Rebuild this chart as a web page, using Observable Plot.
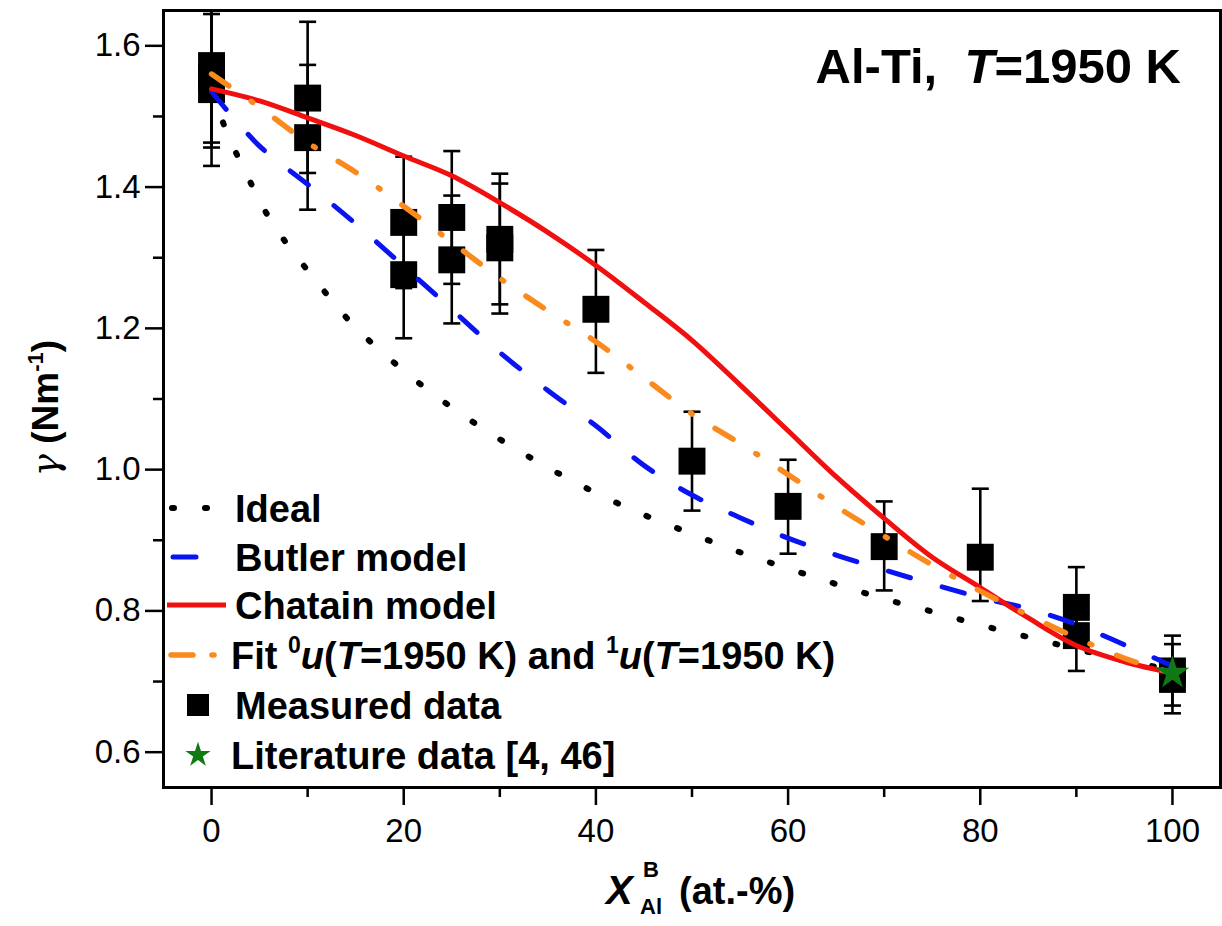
<!DOCTYPE html>
<html><head><meta charset="utf-8">
<script src="https://cdn.jsdelivr.net/npm/d3@7"></script>
<script src="https://cdn.jsdelivr.net/npm/@observablehq/plot@0.6"></script>
<style>body{margin:0;background:#fff} #chart svg{display:block}</style>
</head><body><div id="chart"></div>
<script>
// ---- data ----
const curveX   = [0,5,10,15,20,25,30,35,40,45,50,55,60,65,70,75,80,85,90,95,100];
const butlerY  = [1.535,1.458,1.404,1.348,1.288,1.227,1.166,1.112,1.062,1.006,0.964,0.932,0.903,0.879,0.858,0.838,0.819,0.803,0.781,0.752,0.722];
const chatainY = [1.539,1.522,1.498,1.473,1.444,1.416,1.378,1.336,1.289,1.237,1.183,1.120,1.055,0.990,0.931,0.876,0.833,0.790,0.751,0.728,0.712];
const fitY     = [1.560,1.513,1.463,1.421,1.373,1.322,1.271,1.225,1.181,1.130,1.079,1.037,0.993,0.948,0.906,0.865,0.828,0.794,0.762,0.733,0.712];
const idealX   = [0,1,2.5,4,5.5,7.5,10,12.5,15,20,25,30,35,40,45,50,55,60,65,70,75,80,85,90,95,100];
const idealY   = [1.535,1.498,1.450,1.408,1.368,1.326,1.282,1.240,1.201,1.140,1.088,1.043,1.003,0.967,0.936,0.909,0.883,0.860,0.838,0.817,0.799,0.780,0.763,0.746,0.730,0.716];

const measX  = [0,0,0,10,10,20,20,25,25,30,30,40,50,60,70,80,90,90,100,100];
const measY  = [1.572,1.555,1.538,1.526,1.470,1.350,1.276,1.357,1.297,1.326,1.314,1.227,1.012,0.948,0.891,0.876,0.805,0.765,0.715,0.703];
const measLo = [1.463,1.456,1.430,1.420,1.368,1.257,1.186,1.263,1.207,1.234,1.221,1.137,0.942,0.881,0.829,0.814,0.748,0.715,0.666,0.655];
const measHi = [1.680,1.655,1.645,1.634,1.573,1.443,1.366,1.451,1.388,1.419,1.405,1.311,1.082,1.014,0.955,0.973,0.862,0.815,0.765,0.753];

const litX = [100];
const litY = [0.712];

const xTicks = [0,20,40,60,80,100];
const xMinor = [10,30,50,70,90];
const yTicks = [0.6,0.8,1.0,1.2,1.4,1.6];
const yMinor = [0.7,0.9,1.1,1.3,1.5];

// ---- tables ----
const toRows = (xs, ys) => xs.map((x,i)=>({x, y: ys[i]}));
const ideal = toRows(idealX, idealY);
const butler = toRows(curveX, butlerY);
const chatain = toRows(curveX, chatainY);
const fit = toRows(curveX, fitY);
const meas = measX.map((x,i)=>({x, y: measY[i], lo: measLo[i], hi: measHi[i]}));
const lit = toRows(litX, litY);

const FONT = "'Liberation Sans', Arial, sans-serif";
const C = {ideal:"#000000", butler:"#0a14f0", chatain:"#f01010", fit:"#fa8a1e", star:"#0f7a14"};
const DASH = {ideal:"2 31", butler:"23 33", fit:"21 27 2 27"};

const capSymbol = {draw(ctx, size){ const w = Math.sqrt(size/Math.PI); ctx.moveTo(-w,0); ctx.lineTo(w,0); }};

const plot = Plot.plot({
  width: 1222, height: 926,
  marginLeft: 163, marginRight: 2, marginTop: 10, marginBottom: 139,
  x: {domain: [-5, 105]},
  y: {domain: [0.55, 1.65]},
  style: {fontFamily: FONT, background: "white", color: "black"},
  marks: [
    Plot.axisX(xTicks, {tickSize: 18, tickPadding: 13, fontSize: 33, strokeWidth: 2.5, label: null}),
    Plot.axisX(xMinor, {tickSize: 10, strokeWidth: 2.5, fill: "none"}),
    Plot.axisY(yTicks, {tickSize: 18, tickPadding: 5, fontSize: 33, strokeWidth: 2.5, tickFormat: ".1f", label: null}),
    Plot.axisY(yMinor, {tickSize: 10, strokeWidth: 2.5, fill: "none"}),
    Plot.ruleX(meas, {x: "x", y1: "lo", y2: "hi", stroke: "black", strokeWidth: 2.6, clip: true}),
    Plot.dot(meas, {x: "x", y: "lo", symbol: capSymbol, r: 8.5, stroke: "black", strokeWidth: 2.6, clip: true}),
    Plot.dot(meas, {x: "x", y: "hi", symbol: capSymbol, r: 8.5, stroke: "black", strokeWidth: 2.6, clip: true}),
    Plot.dot(meas, {x: "x", y: "y", symbol: "square", r: 15.2, fill: "black", stroke: "none"}),
    Plot.line(ideal, {x: "x", y: "y", stroke: C.ideal, strokeWidth: 6, strokeDasharray: DASH.ideal, strokeLinecap: "round", curve: "catmull-rom"}),
    Plot.line(butler, {x: "x", y: "y", stroke: C.butler, strokeWidth: 5, strokeDasharray: DASH.butler, strokeLinecap: "round", curve: "catmull-rom"}),
    Plot.line(chatain, {x: "x", y: "y", stroke: C.chatain, strokeWidth: 5, curve: "catmull-rom"}),
    Plot.line(fit, {x: "x", y: "y", stroke: C.fit, strokeWidth: 5.5, strokeDasharray: DASH.fit, strokeLinecap: "round", curve: "catmull-rom"}),
    Plot.dot(lit, {x: "x", y: "y", symbol: "star", r: 10.5, fill: C.star, stroke: "none"}),
    Plot.frame({stroke: "black", strokeWidth: 3})
  ]
});
document.getElementById("chart").appendChild(plot);

// ---- titles & legend (text overlays) ----
const svg = d3.select(plot);
const g = svg.append("g").attr("font-family", FONT).attr("fill", "black").attr("text-anchor", "start");

// chart title
const t = g.append("text").attr("x", 1181).attr("y", 83).attr("text-anchor", "end")
  .attr("font-size", 49).attr("font-weight", "bold").style("white-space", "pre");
t.append("tspan").text("Al-Ti,  ");
t.append("tspan").attr("font-style", "italic").text("T");
t.append("tspan").text("=1950 K");

// y axis title
const yt = g.append("text").attr("transform", "translate(58,408) rotate(-90)")
  .attr("text-anchor", "middle").attr("font-size", 37).attr("font-weight", "bold");
yt.append("tspan").attr("font-style", "italic").attr("font-weight", "normal").attr("font-family", "'DejaVu Serif', serif").text("γ");
yt.append("tspan").text(" (Nm");
yt.append("tspan").attr("font-size", 22).attr("dy", -15).text("-1");
yt.append("tspan").attr("dy", 15).text(")");

// x axis title
g.append("text").attr("x", 606).attr("y", 904).attr("font-size", 40).attr("font-weight", "bold").attr("font-style", "italic").text("X");
g.append("text").attr("x", 643).attr("y", 877).attr("font-size", 22).attr("font-weight", "bold").text("B");
g.append("text").attr("x", 640).attr("y", 914).attr("font-size", 22).attr("font-weight", "bold").text("Al");
g.append("text").attr("x", 679).attr("y", 904).attr("font-size", 38).attr("font-weight", "bold").text("(at.-%)");

// legend
const L = g.append("g");
const rows = [508, 557, 605, 655, 705, 755];
const TX = 235, FS = 38;
function ltext(y, x) { return L.append("text").attr("x", x ?? TX).attr("y", y + 14).attr("font-size", FS).attr("font-weight", "bold").style("white-space","pre"); }
// Ideal
L.append("line").attr("x1", 172).attr("x2", 207).attr("y1", rows[0]).attr("y2", rows[0])
  .attr("stroke", C.ideal).attr("stroke-width", 6).attr("stroke-dasharray", DASH.ideal).attr("stroke-linecap", "round");
ltext(rows[0]).text("Ideal");
// Butler
L.append("line").attr("x1", 173).attr("x2", 196).attr("y1", rows[1]).attr("y2", rows[1])
  .attr("stroke", C.butler).attr("stroke-width", 5).attr("stroke-linecap", "round");
ltext(rows[1]).text("Butler model");
// Chatain
L.append("line").attr("x1", 167).attr("x2", 226).attr("y1", rows[2]).attr("y2", rows[2])
  .attr("stroke", C.chatain).attr("stroke-width", 5);
ltext(rows[2]).text("Chatain model");
// Fit
L.append("line").attr("x1", 171).attr("x2", 215).attr("y1", rows[3]).attr("y2", rows[3])
  .attr("stroke", C.fit).attr("stroke-width", 5.5).attr("stroke-dasharray", "22 19 2 40").attr("stroke-linecap", "round");
const ft = ltext(rows[3], 231);
ft.append("tspan").text("Fit ");
ft.append("tspan").attr("font-size", 23).attr("dy", -16).text("0");
ft.append("tspan").attr("dy", 16).attr("font-style", "italic").text("u");
ft.append("tspan").text("(");
ft.append("tspan").attr("font-style", "italic").text("T");
ft.append("tspan").text("=1950 K) and ");
ft.append("tspan").attr("font-size", 23).attr("dy", -16).text("1");
ft.append("tspan").attr("dy", 16).attr("font-style", "italic").text("u");
ft.append("tspan").text("(");
ft.append("tspan").attr("font-style", "italic").text("T");
ft.append("tspan").text("=1950 K)");
// Measured
L.append("rect").attr("x", 187).attr("y", rows[4] - 11).attr("width", 22).attr("height", 22).attr("fill", "black");
ltext(rows[4]).text("Measured data");
// Literature
L.append("path").attr("transform", `translate(198,${rows[5]})`).attr("d", d3.symbol(d3.symbolStar, 200)()).attr("fill", C.star);
ltext(rows[5], 231).text("Literature data [4, 46]");
</script>
</body></html>
